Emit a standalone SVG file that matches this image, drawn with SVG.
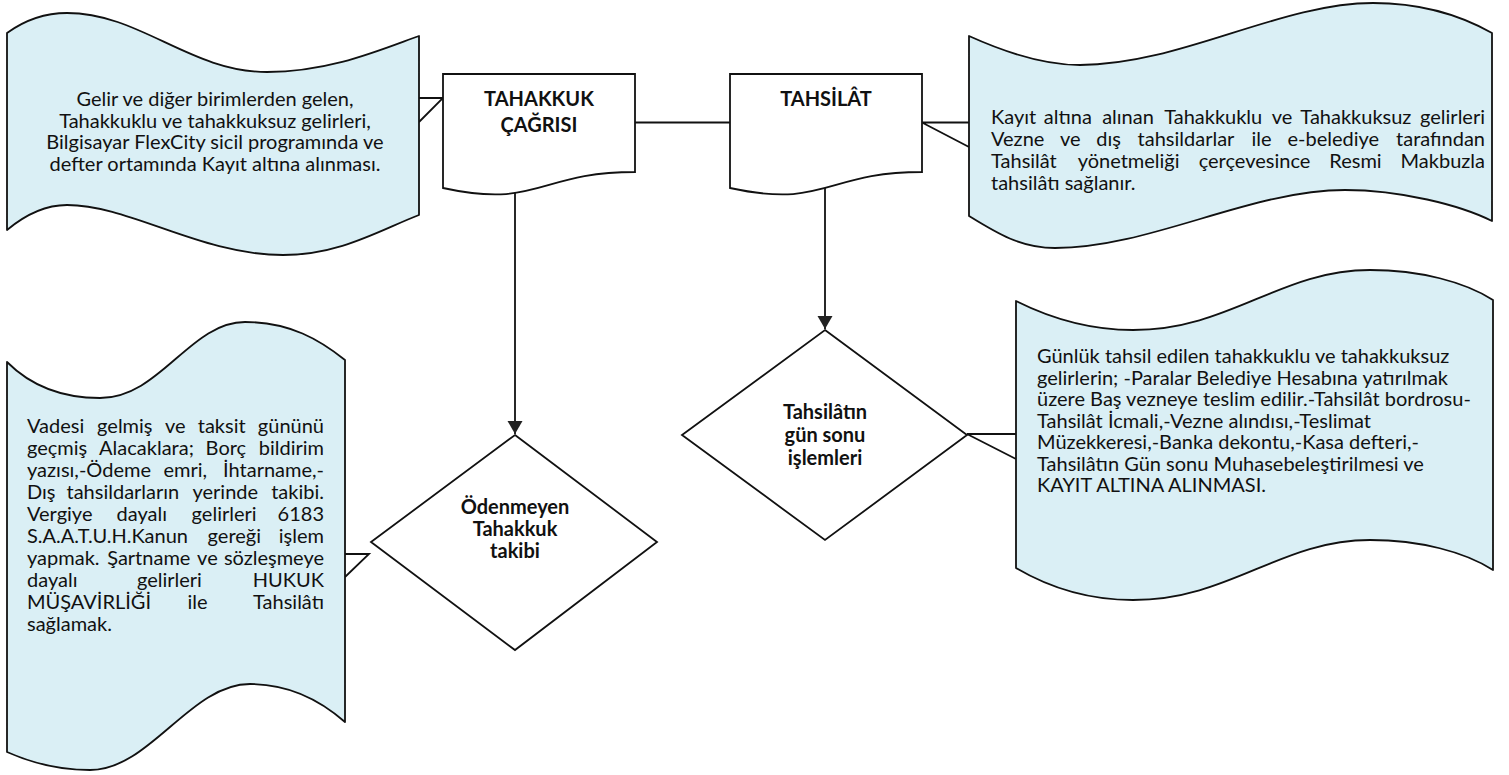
<svg xmlns="http://www.w3.org/2000/svg" width="1509" height="775" viewBox="0 0 1509 775">
<style>
.cl{fill:#daeff5;stroke:#111;stroke-width:1.8;stroke-linejoin:round}
.sh{fill:#fff;stroke:#111;stroke-width:1.8;stroke-linejoin:miter}
.ln{fill:none;stroke:#111;stroke-width:1.8}
.t{font-family:Lato,"Liberation Sans",sans-serif;font-size:20px;fill:#111}
.b{font-weight:bold}
.m{text-anchor:middle}
.e{text-anchor:end}
</style>
<defs>
<marker id="ah" markerUnits="userSpaceOnUse" markerWidth="14" markerHeight="16" refX="13" refY="8" orient="auto">
<path d="M0,0.5 L13,8 L0,15.5 Z" fill="#222"/>
</marker>
</defs>

<g id="connectors">
<line class="ln" x1="635" y1="122.5" x2="730" y2="122.5"/>
<line class="ln" x1="515" y1="193" x2="515" y2="434" marker-end="url(#ah)"/>
<line class="ln" x1="825" y1="188" x2="825" y2="329" marker-end="url(#ah)"/>
<polyline class="ln" points="419,98 443,98 419,122"/>
<polyline class="ln" points="969,122.5 922,122.5 969,147"/>
<polyline class="ln" points="345,554 369,554 345,577"/>
<polyline class="ln" points="1016,434 967,434 1016,459"/>
</g>

<g id="note-gelir">
<path class="cl" d="M7,33 C25,20 45,13 67,13 C140,13 190,72 267,72 C330,72 380,50 419,36 L419,215 C380,230 340,255 283,255 C200,255 130,205 67,205 C45,205 25,215 7,230 Z"/>
<text class="t m" x="215" y="106">Gelir ve diğer birimlerden gelen,</text>
<text class="t m" x="215" y="127.7">Tahakkuklu ve tahakkuksuz gelirleri,</text>
<text class="t m" x="215" y="149.4">Bilgisayar FlexCity sicil programında ve</text>
<text class="t m" x="215" y="171.1">defter ortamında Kayıt altına alınması.</text>
</g>

<g id="doc-tahakkuk">
<path class="sh" d="M443,74 H635 V172 C539,172 539,209 443,188 Z"/>
<text class="t b m" x="539" y="106">TAHAKKUK</text>
<text class="t b m" x="539" y="132">ÇAĞRISI</text>
</g>

<g id="doc-tahsilat">
<path class="sh" d="M730,74 H922 V172 C826,172 826,209 730,188 Z"/>
<text class="t b m" x="826" y="106">TAHSİLÂT</text>
</g>

<g id="note-tahsilat">
<path class="cl" d="M969,36 C1000,50 1040,65 1080,65 C1180,65 1280,3 1373,3 C1420,3 1460,15 1492,33 L1492,221 C1460,205 1400,190 1345,190 C1250,190 1150,248 1055,248 C1020,248 995,232 969,216 Z"/>
<text class="t" y="124"><tspan x="991">Kayıt</tspan><tspan class="m" x="1067.9">altına</tspan><tspan class="m" x="1128">alınan</tspan><tspan class="m" x="1213.2">Tahakkuklu</tspan><tspan class="m" x="1282.1">ve</tspan><tspan class="m" x="1355.9">Tahakkuksuz</tspan><tspan class="e" x="1485">gelirleri</tspan></text>
<text class="t" y="146"><tspan x="991">Vezne</tspan><tspan class="m" x="1070.2">ve</tspan><tspan class="m" x="1108.7">dış</tspan><tspan class="m" x="1186">tahsildarlar</tspan><tspan class="m" x="1261.5">ile</tspan><tspan class="m" x="1333.3">e-belediye</tspan><tspan class="e" x="1485">tarafından</tspan></text>
<text class="t" y="168"><tspan x="991">Tahsilât</tspan><tspan class="m" x="1128.6">yönetmeliği</tspan><tspan class="m" x="1254.5">çerçevesince</tspan><tspan class="m" x="1355.5">Resmi</tspan><tspan class="e" x="1485">Makbuzla</tspan></text>
<text class="t" x="991" y="190">tahsilâtı sağlanır.</text>
</g>

<g id="note-takip">
<path class="cl" d="M7,362 C30,385 60,398 100,398 C160,398 190,322 245,322 C290,322 320,340 345,360 L345,722 C320,700 290,684 250,684 C190,684 150,770 90,770 C55,770 25,760 7,752 Z"/>
<text class="t" y="433"><tspan x="27">Vadesi</tspan><tspan class="m" x="124.8">gelmiş</tspan><tspan class="m" x="175.3">ve</tspan><tspan class="m" x="221.7">taksit</tspan><tspan class="e" x="324">gününü</tspan></text>
<text class="t" y="455"><tspan x="27">geçmiş</tspan><tspan class="m" x="146.5">Alacaklara;</tspan><tspan class="m" x="225.9">Borç</tspan><tspan class="e" x="324">bildirim</tspan></text>
<text class="t" y="477"><tspan x="27">yazısı,-Ödeme</tspan><tspan class="m" x="185.3">emri,</tspan><tspan class="e" x="324">İhtarname,-</tspan></text>
<text class="t" y="499"><tspan x="27">Dış</tspan><tspan class="m" x="122.9">tahsildarların</tspan><tspan class="m" x="225.3">yerinde</tspan><tspan class="e" x="324">takibi.</tspan></text>
<text class="t" y="521"><tspan x="27">Vergiye</tspan><tspan class="m" x="141.8">dayalı</tspan><tspan class="m" x="224.1">gelirleri</tspan><tspan class="e" x="324">6183</tspan></text>
<text class="t" y="543"><tspan x="27">S.A.A.T.U.H.Kanun</tspan><tspan class="m" x="234.3">gereği</tspan><tspan class="e" x="324">işlem</tspan></text>
<text class="t" y="565"><tspan x="27">yapmak.</tspan><tspan class="m" x="148.8">Şartname</tspan><tspan class="m" x="207.4">ve</tspan><tspan class="e" x="324">sözleşmeye</tspan></text>
<text class="t" y="587"><tspan x="27">dayalı</tspan><tspan class="m" x="169.4">gelirleri</tspan><tspan class="e" x="324">HUKUK</tspan></text>
<text class="t" y="609"><tspan x="27">MÜŞAVİRLİĞİ</tspan><tspan class="m" x="197.6">ile</tspan><tspan class="e" x="324">Tahsilâtı</tspan></text>
<text class="t" x="27" y="631">sağlamak.</text>
</g>

<g id="dec-odenmeyen">
<polygon class="sh" points="515,435 657,542 515,650 371,542"/>
<text class="t b m" x="515" y="514">Ödenmeyen</text>
<text class="t b m" x="515" y="536">Tahakkuk</text>
<text class="t b m" x="515" y="558">takibi</text>
</g>

<g id="dec-gunsonu">
<polygon class="sh" points="825,330 967,435 825,540 682,435"/>
<text class="t b m" x="825" y="419">Tahsilâtın</text>
<text class="t b m" x="825" y="442">gün sonu</text>
<text class="t b m" x="825" y="465">işlemleri</text>
</g>

<g id="note-gunsonu">
<path class="cl" d="M1016,301 C1050,318 1090,330 1133,330 C1230,330 1280,270 1370,270 C1420,270 1465,282 1493,300 L1493,570 C1465,552 1420,540 1370,540 C1280,540 1230,600 1133,600 C1090,600 1050,588 1016,568 Z"/>
<text class="t" x="1037" y="363">Günlük tahsil edilen tahakkuklu ve tahakkuksuz</text>
<text class="t" x="1037" y="384.5">gelirlerin; -Paralar Belediye Hesabına yatırılmak</text>
<text class="t" x="1037" y="406">üzere Baş vezneye teslim edilir.-Tahsilât bordrosu-</text>
<text class="t" x="1037" y="427.5">Tahsilât İcmali,-Vezne alındısı,-Teslimat</text>
<text class="t" x="1037" y="449">Müzekkeresi,-Banka dekontu,-Kasa defteri,-</text>
<text class="t" x="1037" y="470.5">Tahsilâtın Gün sonu Muhasebeleştirilmesi ve</text>
<text class="t" x="1037" y="492">KAYIT ALTINA ALINMASI.</text>
</g>
</svg>
